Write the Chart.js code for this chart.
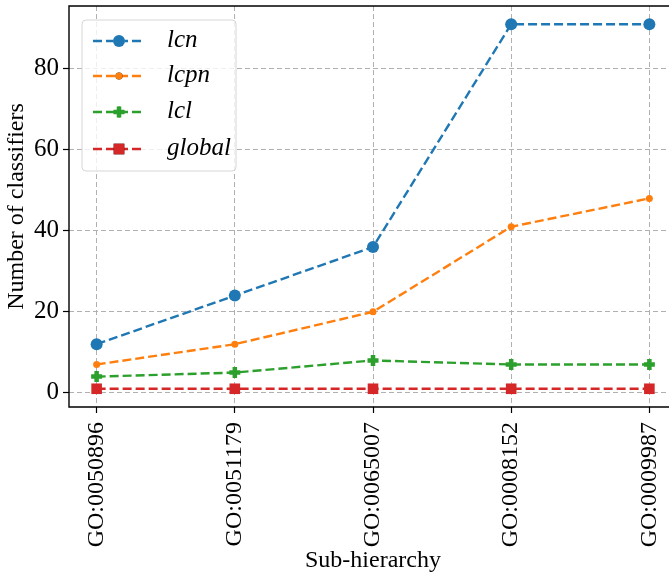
<!DOCTYPE html>
<html>
<head>
<meta charset="utf-8">
<script src="https://cdn.jsdelivr.net/npm/chart.js@4/dist/chart.umd.min.js"></script>
<style>
  html, body { margin: 0; padding: 0; background: #fff; overflow: hidden; }
  #wrap { width: 684px; height: 575px; position: relative; }
</style>
</head>
<body>
<div id="wrap"><canvas id="myChart"></canvas></div>
<script>
var categories = ['GO:0050896', 'GO:0051179', 'GO:0065007', 'GO:0008152', 'GO:0009987'];
var lcn = [12, 24, 36, 91, 91];
var lcpn = [7, 12, 20, 41, 48];
var lcl = [4, 5, 8, 7, 7];
var global = [1, 1, 1, 1, 1];
var yTicks = [0, 20, 40, 60, 80];

var serif = "'Liberation Serif', 'DejaVu Serif', serif";

var toPoints = function(arr) {
  return arr.map(function(v, i) { return { x: i, y: v }; });
};

var makeSet = function(label, arr, color, style, radius, bw) {
  return {
    label: label,
    data: toPoints(arr),
    borderColor: color,
    backgroundColor: color,
    borderWidth: 2.4,
    borderDash: [9, 4],
    pointStyle: style,
    pointRadius: radius,
    pointHoverRadius: radius,
    pointBorderWidth: bw,
    pointBorderColor: color,
    pointBackgroundColor: color,
    fill: false,
    tension: 0
  };
};

// frame (top spine) + legend inside the plot
var framePlugin = {
  id: 'frame',
  afterDatasetsDraw: function(chart) {
    var ctx = chart.ctx;
    var a = chart.chartArea;
    ctx.save();
    ctx.strokeStyle = '#000';
    ctx.lineWidth = 1.4;
    ctx.beginPath();
    ctx.moveTo(a.left, a.bottom);
    ctx.lineTo(a.left, a.top);
    ctx.lineTo(a.right, a.top);
    ctx.lineTo(a.right, a.bottom);
    ctx.closePath();
    ctx.stroke();

    // legend box
    var bx = a.left + 13, by = a.top + 14, bw = 154, bh = 151;
    ctx.fillStyle = 'rgba(255,255,255,0.8)';
    ctx.strokeStyle = '#d6d6d6';
    ctx.lineWidth = 1;
    ctx.beginPath();
    ctx.roundRect(bx, by, bw, bh, 4);
    ctx.fill();
    ctx.stroke();

    var rowY = [by + 21, by + 56, by + 92, by + 129];
    chart.data.datasets.forEach(function(ds, i) {
      var y = rowY[i];
      ctx.strokeStyle = ds.borderColor;
      ctx.lineWidth = ds.borderWidth;
      ctx.setLineDash(ds.borderDash);
      ctx.beginPath();
      ctx.moveTo(bx + 11, y);
      ctx.lineTo(bx + 63, y);
      ctx.stroke();
      ctx.setLineDash([]);
      Chart.helpers.drawPoint(ctx, {
        pointStyle: ds.pointStyle,
        radius: ds.pointRadius,
        borderWidth: ds.pointBorderWidth,
        rotation: 0
      }, bx + 37, y);
      ctx.fillStyle = ds.borderColor;
      ctx.strokeStyle = ds.borderColor;
      ctx.fill();
      if (ds.pointBorderWidth > 0) { ctx.lineWidth = ds.pointBorderWidth; ctx.stroke(); }
      ctx.fillStyle = '#000';
      ctx.font = 'italic 25px ' + serif;
      ctx.textBaseline = 'middle';
      ctx.textAlign = 'left';
      ctx.fillText(ds.label, bx + 85, y - 1);
    });
    ctx.restore();
  }
};

var gridOpts = {
  color: '#b0b0b0',
  lineWidth: 1,
  drawTicks: true,
  tickLength: 6,
  tickColor: '#000',
  tickWidth: 1.2,
  tickBorderDash: []
};

var ctx = document.getElementById('myChart');
var myChart = new Chart(ctx, {
  type: 'line',
  data: {
    datasets: [
      makeSet('lcn', lcn, '#1f77b4', 'circle', 6, 0),
      makeSet('lcpn', lcpn, '#ff7f0e', 'circle', 3.5, 0),
      makeSet('lcl', lcl, '#2ca02c', 'cross', 5.5, 4.5),
      makeSet('global', global, '#d62728', 'rect', 7.5, 0)
    ]
  },
  options: {
    responsive: true,
    maintainAspectRatio: false,
    animation: false,
    layout: { autoPadding: false, padding: { left: 2, top: 6, right: 7, bottom: 0 } },
    plugins: {
      legend: { display: false },
      tooltip: { enabled: false }
    },
    scales: {
      x: {
        type: 'linear',
        min: -0.2,
        max: 4.2,
        afterBuildTicks: function(scale) {
          scale.ticks = categories.map(function(c, i) { return { value: i }; });
        },
        afterFit: function(scale) {
          scale.height = 168;
          scale.paddingLeft = 0;
          scale.paddingRight = 0;
        },
        ticks: {
          autoSkip: false,
          minRotation: 90,
          maxRotation: 90,
          padding: 9,
          color: '#000',
          font: { family: serif, size: 24 },
          callback: function(v) { return categories[v]; }
        },
        grid: gridOpts,
        border: { display: false, dash: [5, 3] },
        title: {
          display: true,
          text: 'Sub-hierarchy',
          color: '#000',
          font: { family: serif, size: 24 },
          padding: { top: 0, bottom: 0 }
        }
      },
      y: {
        min: -3.5,
        max: 95.5,
        afterBuildTicks: function(scale) {
          scale.ticks = yTicks.map(function(v) { return { value: v }; });
        },
        afterFit: function(scale) {
          scale.width = 67;
          scale.paddingTop = 0;
          scale.paddingBottom = 0;
        },
        ticks: {
          padding: 4,
          color: '#000',
          font: { family: serif, size: 25 }
        },
        grid: gridOpts,
        border: { display: false, dash: [5, 3] },
        title: {
          display: true,
          text: 'Number of classifiers',
          color: '#000',
          font: { family: serif, size: 24 },
          padding: { top: 0, bottom: 0 }
        }
      }
    }
  },
  plugins: [framePlugin]
});
</script>
</body>
</html>
